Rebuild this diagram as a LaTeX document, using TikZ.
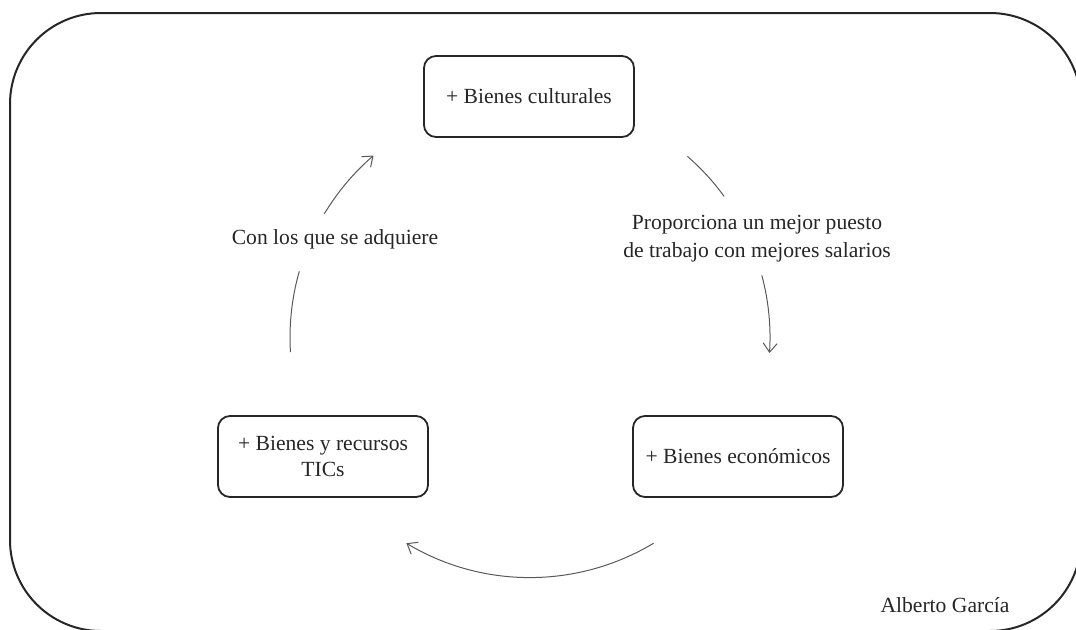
\documentclass[tikz,border=0pt]{standalone}
\usepackage{fontspec}
\setmainfont{Liberation Serif}
\usetikzlibrary{positioning}
\usetikzlibrary{arrows.meta}

\begin{document}
\begin{tikzpicture}[x=0.5pt,y=0.5pt,
  bien/.style={draw=black!85,line width=0.9pt,rounded corners=6pt,minimum width=105pt,minimum height=40.5pt,align=center,inner sep=2pt,text=black!85,font=\fontsize{10.8}{13}\selectfont},
  etiq/.style={align=center,text=black!85,font=\fontsize{10.8}{14}\selectfont},
  flecha/.style={draw=black!65,line width=0.5pt,-{Straight Barb[length=4.5pt,width=7pt]}},
  tramo/.style={draw=black!65,line width=0.5pt}]
 \useasboundingbox (0,0) rectangle (1076,629);
 \clip (0,0) rectangle (1076,629);
 \draw[black!85,line width=1pt,rounded corners=45.5pt](10,616) rectangle (1081,-2);
 \coordinate (ciclo) at (530,291.5);
 \node[bien] (cult) at (529,532.5) {+ Bienes culturales};
 \node[bien] (tics) at (323,172.5) {+ Bienes y recursos\\TICs};
 \node[bien] (econ) at (738,172.5) {+ Bienes económicos};
 \node[etiq] (prop) at (757,390) {Proporciona un mejor puesto\\de trabajo con mejores salarios};
 \node[etiq] (adq) at (335,390) {Con los que se adquiere};
 \node[etiq] (autor) at (945,24) {Alberto García};
 \draw[tramo] ([shift={(49:120pt)}]ciclo) arc[start angle=49,end angle=36,radius=120pt];
 \draw[flecha] ([shift={(15:120pt)}]ciclo) arc[start angle=15,end angle=-3.7,radius=120pt];
 \draw[flecha] ([shift={(-59:120pt)}]ciclo) arc[start angle=-59,end angle=-121,radius=120pt];
 \draw[tramo] ([shift={(183.5:120pt)}]ciclo) arc[start angle=183.5,end angle=164,radius=120pt];
 \draw[flecha] ([shift={(149:120pt)}]ciclo) arc[start angle=149,end angle=130.7,radius=120pt];
\end{tikzpicture}
\end{document}
